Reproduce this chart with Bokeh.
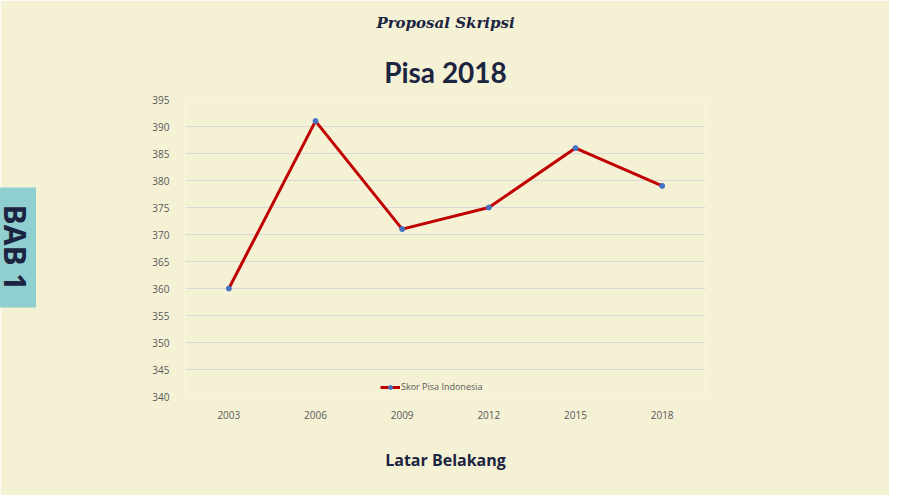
from bokeh.plotting import figure
from bokeh.models import (ColumnDataSource, FactorRange, Range1d, FixedTicker, Label,
                          Legend, LegendItem, Title)
from bokeh.embed import file_html
from bokeh.resources import INLINE
import math

years = ["2003", "2006", "2009", "2012", "2015", "2018"]
scores = [360, 391, 371, 375, 386, 379]
y_ticks = [340, 345, 350, 355, 360, 365, 370, 375, 380, 385, 390, 395]
series_name = "Skor Pisa Indonesia"
chart_title = "Pisa 2018"
header_text = "Proposal Skripsi"
footer_text = "Latar Belakang"
side_text = "BAB 1"

BG = "#F5F1D5"
NAVY = "#1B2440"
W, H = 889, 495

src = ColumnDataSource(dict(x=years, y=scores))

p = figure(width=W, height=H, x_range=FactorRange(*years, range_padding=0),
           y_range=Range1d(340, 395), output_backend="svg", toolbar_location=None,
           min_border_left=185, min_border_right=W - 705, min_border_top=99,
           min_border_bottom=H - 405)
p.background_fill_color = BG
p.border_fill_color = BG
p.outline_line_color = None

r_line = p.line("x", "y", source=src, line_color="#C00000", line_width=3)
r_pts = p.scatter("x", "y", source=src, size=5, fill_color="#4472C4", line_color="#4472C4")

for ax in (p.xaxis, p.yaxis):
    ax.axis_line_color = None
    ax.major_tick_line_color = None
    ax.minor_tick_line_color = None
    ax.major_label_text_font = "Open Sans"
    ax.major_label_text_font_size = "10px"
    ax.major_label_text_color = "#595959"
p.yaxis.ticker = FixedTicker(ticks=y_ticks)
p.yaxis.major_label_standoff = 10
p.xaxis.major_label_standoff = 8
p.xgrid.grid_line_color = None
p.ygrid.grid_line_color = "#D9D9D9"
p.ygrid.grid_line_width = 1

legend = Legend(items=[LegendItem(label=series_name, renderers=[r_line, r_pts])],
                location=(195, 3), orientation="horizontal",
                background_fill_alpha=0, border_line_color=None,
                label_text_font="Open Sans", label_text_font_size="9px",
                label_text_color="#595959", glyph_width=20, glyph_height=10,
                label_standoff=1, padding=0, margin=0, spacing=0)
p.add_layout(legend, "center")

p.add_layout(Title(text=footer_text, align="center", text_font="Open Sans",
                   text_font_style="bold", text_font_size="16px", text_color=NAVY,
                   standoff=50), "below")

p.add_layout(Title(text=chart_title, align="center", text_font="Lato",
                   text_font_style="bold", text_font_size="28px", text_color=NAVY,
                   standoff=22), "above")
p.add_layout(Title(text=header_text, align="center", text_font="DejaVu Serif",
                   text_font_style="bold italic", text_font_size="15px", text_color=NAVY,
                   standoff=20), "above")

p.add_layout(Label(x=15, y=247, x_units="canvas", y_units="canvas", text=side_text,
                   text_font="Open Sans", text_font_style="bold", angle=-math.pi / 2,
                   text_font_size="30px", text_color=NAVY, text_align="center",
                   text_baseline="middle", background_fill_color="#8FCFCF",
                   padding=(17, 0)), "left")

open("out.html", "w").write(file_html(p, INLINE))
